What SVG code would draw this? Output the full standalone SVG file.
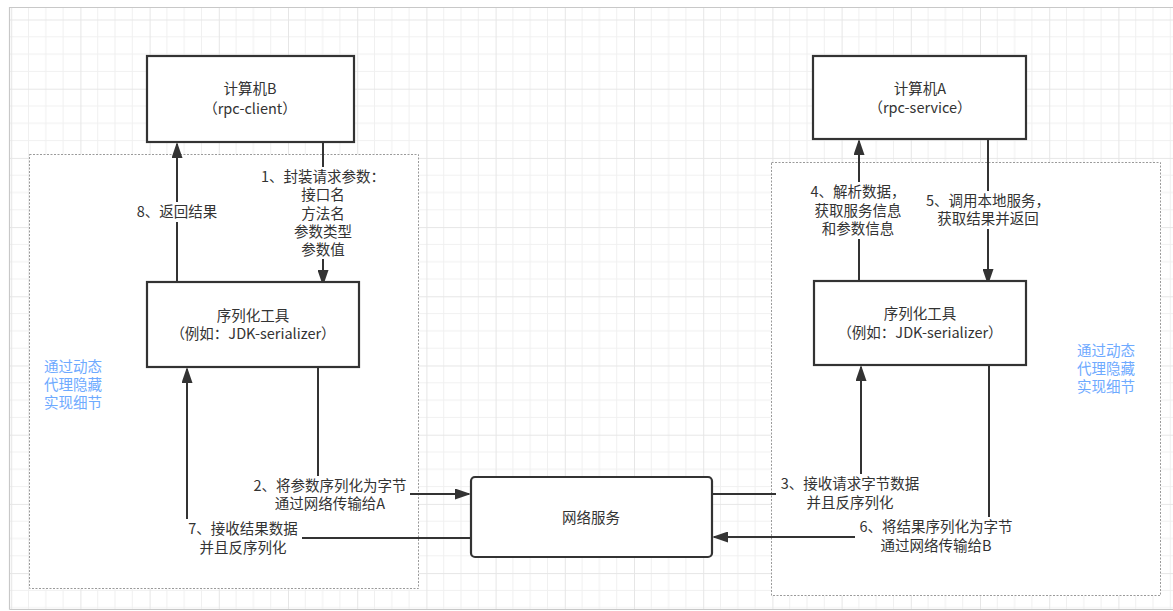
<svg xmlns="http://www.w3.org/2000/svg" width="1173" height="611" viewBox="0 0 1173 611">
  <defs>
    <pattern id="grid" patternUnits="userSpaceOnUse" x="11.2" y="19.5" width="69.2" height="69.2">
      <path d="M17.3,0V69.2M34.6,0V69.2M51.9,0V69.2M0,17.3H69.2M0,34.6H69.2M0,51.9H69.2" stroke="#f0f0f0" stroke-width="1" fill="none"/>
      <path d="M0.5,0V69.2M0,0.5H69.2" stroke="#e6e6e6" stroke-width="1" fill="none"/>
    </pattern>
    <marker id="arr" markerUnits="userSpaceOnUse" markerWidth="16" markerHeight="11" viewBox="0 0 16 11" refX="14" refY="5.5" orient="auto">
      <path d="M0,0 L16,5.5 L0,11 Z" fill="#333"/>
    </marker>
    <style>
      .box{fill:#fff;stroke:#333;stroke-width:2.2}
      .cont{fill:none;stroke:#9a9a9a;stroke-width:1;stroke-dasharray:2 1.5}
      .t{font-family:"Noto Sans CJK SC","Microsoft YaHei",sans-serif;font-size:14.5px;fill:#333;text-anchor:middle}
      .blue{font-family:"Noto Sans CJK SC",sans-serif;font-size:14.5px;fill:#6eaaff}
      .edge{fill:none;stroke:#333;stroke-width:2;marker-end:url(#arr)}
      .lbg{fill:#fff}
    </style>
  </defs>

  <rect x="0" y="0" width="1173" height="611" fill="#fff"/>
  <rect x="9" y="7" width="1170" height="602" fill="url(#grid)"/>
  <path d="M9.5,609.5 V7.5 H1173 M9.5,609.5 H1173" fill="none" stroke="#c8c8c8" stroke-width="1.2"/>

  <g id="containers">
    <rect class="cont" x="29.5" y="154.5" width="389" height="434" fill="#fff" style="fill:#fff"/>
    <rect class="cont" x="771.5" y="162.5" width="389" height="433" style="fill:#fff"/>
    <text class="blue" x="44" y="372">通过动态</text>
    <text class="blue" x="44" y="390">代理隐藏</text>
    <text class="blue" x="44" y="408">实现细节</text>
    <text class="blue" x="1077" y="356">通过动态</text>
    <text class="blue" x="1077" y="374">代理隐藏</text>
    <text class="blue" x="1077" y="392">实现细节</text>
  </g>

  <g id="connectors">
    <path class="edge" d="M177,282 V144"/>
    <path class="edge" d="M323,142 V284"/>
    <path class="edge" d="M471,538 H187 V369"/>
    <path class="edge" d="M318,367 V494 H469"/>
    <path class="edge" d="M859,281 V141"/>
    <path class="edge" d="M988,139 V283"/>
    <path class="edge" d="M712,494 H861 V367"/>
    <path class="edge" d="M989,365 V537 H714"/>

    <rect class="lbg" x="136" y="202" width="83" height="20"/>
    <text class="t" x="177" y="217">8、返回结果</text>

    <rect class="lbg" x="259" y="167" width="128" height="92"/>
    <text class="t" x="323" y="182">1、封装请求参数：</text>
    <text class="t" x="323" y="200">接口名</text>
    <text class="t" x="323" y="218.5">方法名</text>
    <text class="t" x="323" y="237">参数类型</text>
    <text class="t" x="323" y="255">参数值</text>

    <rect class="lbg" x="250" y="476" width="160" height="37"/>
    <text class="t" x="330" y="491">2、将参数序列化为字节</text>
    <text class="t" x="330" y="509">通过网络传输给A</text>

    <rect class="lbg" x="185" y="519" width="117" height="38"/>
    <text class="t" x="243" y="534">7、接收结果数据</text>
    <text class="t" x="243" y="553">并且反序列化</text>

    <rect class="lbg" x="799" y="182" width="118" height="57"/>
    <text class="t" x="858" y="197">4、解析数据，</text>
    <text class="t" x="858" y="216">获取服务信息</text>
    <text class="t" x="858" y="234">和参数信息</text>

    <rect class="lbg" x="924" y="191" width="124" height="38"/>
    <text class="t" x="988" y="206">5、调用本地服务，</text>
    <text class="t" x="988" y="224">获取结果并返回</text>

    <rect class="lbg" x="776" y="474" width="149" height="38"/>
    <text class="t" x="850" y="489">3、接收请求字节数据</text>
    <text class="t" x="850" y="508">并且反序列化</text>

    <rect class="lbg" x="855" y="517" width="163" height="38"/>
    <text class="t" x="936" y="532">6、将结果序列化为字节</text>
    <text class="t" x="936" y="551">通过网络传输给B</text>
  </g>

  <g id="computerB">
    <rect class="box" x="147" y="56" width="207" height="86"/>
    <text class="t" x="250" y="94">计算机B</text>
    <text class="t" x="250" y="114">（rpc-client）</text>
  </g>
  <g id="serializerB">
    <rect class="box" x="147" y="282" width="212" height="85"/>
    <text class="t" x="253" y="321">序列化工具</text>
    <text class="t" x="253" y="339">（例如：JDK-serializer）</text>
  </g>
  <g id="computerA">
    <rect class="box" x="813" y="56" width="213" height="83"/>
    <text class="t" x="920" y="94">计算机A</text>
    <text class="t" x="920" y="113">（rpc-service）</text>
  </g>
  <g id="serializerA">
    <rect class="box" x="814" y="281" width="212" height="84"/>
    <text class="t" x="920" y="319">序列化工具</text>
    <text class="t" x="920" y="338">（例如：JDK-serializer）</text>
  </g>
  <g id="network">
    <rect class="box" x="471" y="477" width="241" height="80" rx="4"/>
    <text class="t" x="591" y="523">网络服务</text>
  </g>
</svg>
